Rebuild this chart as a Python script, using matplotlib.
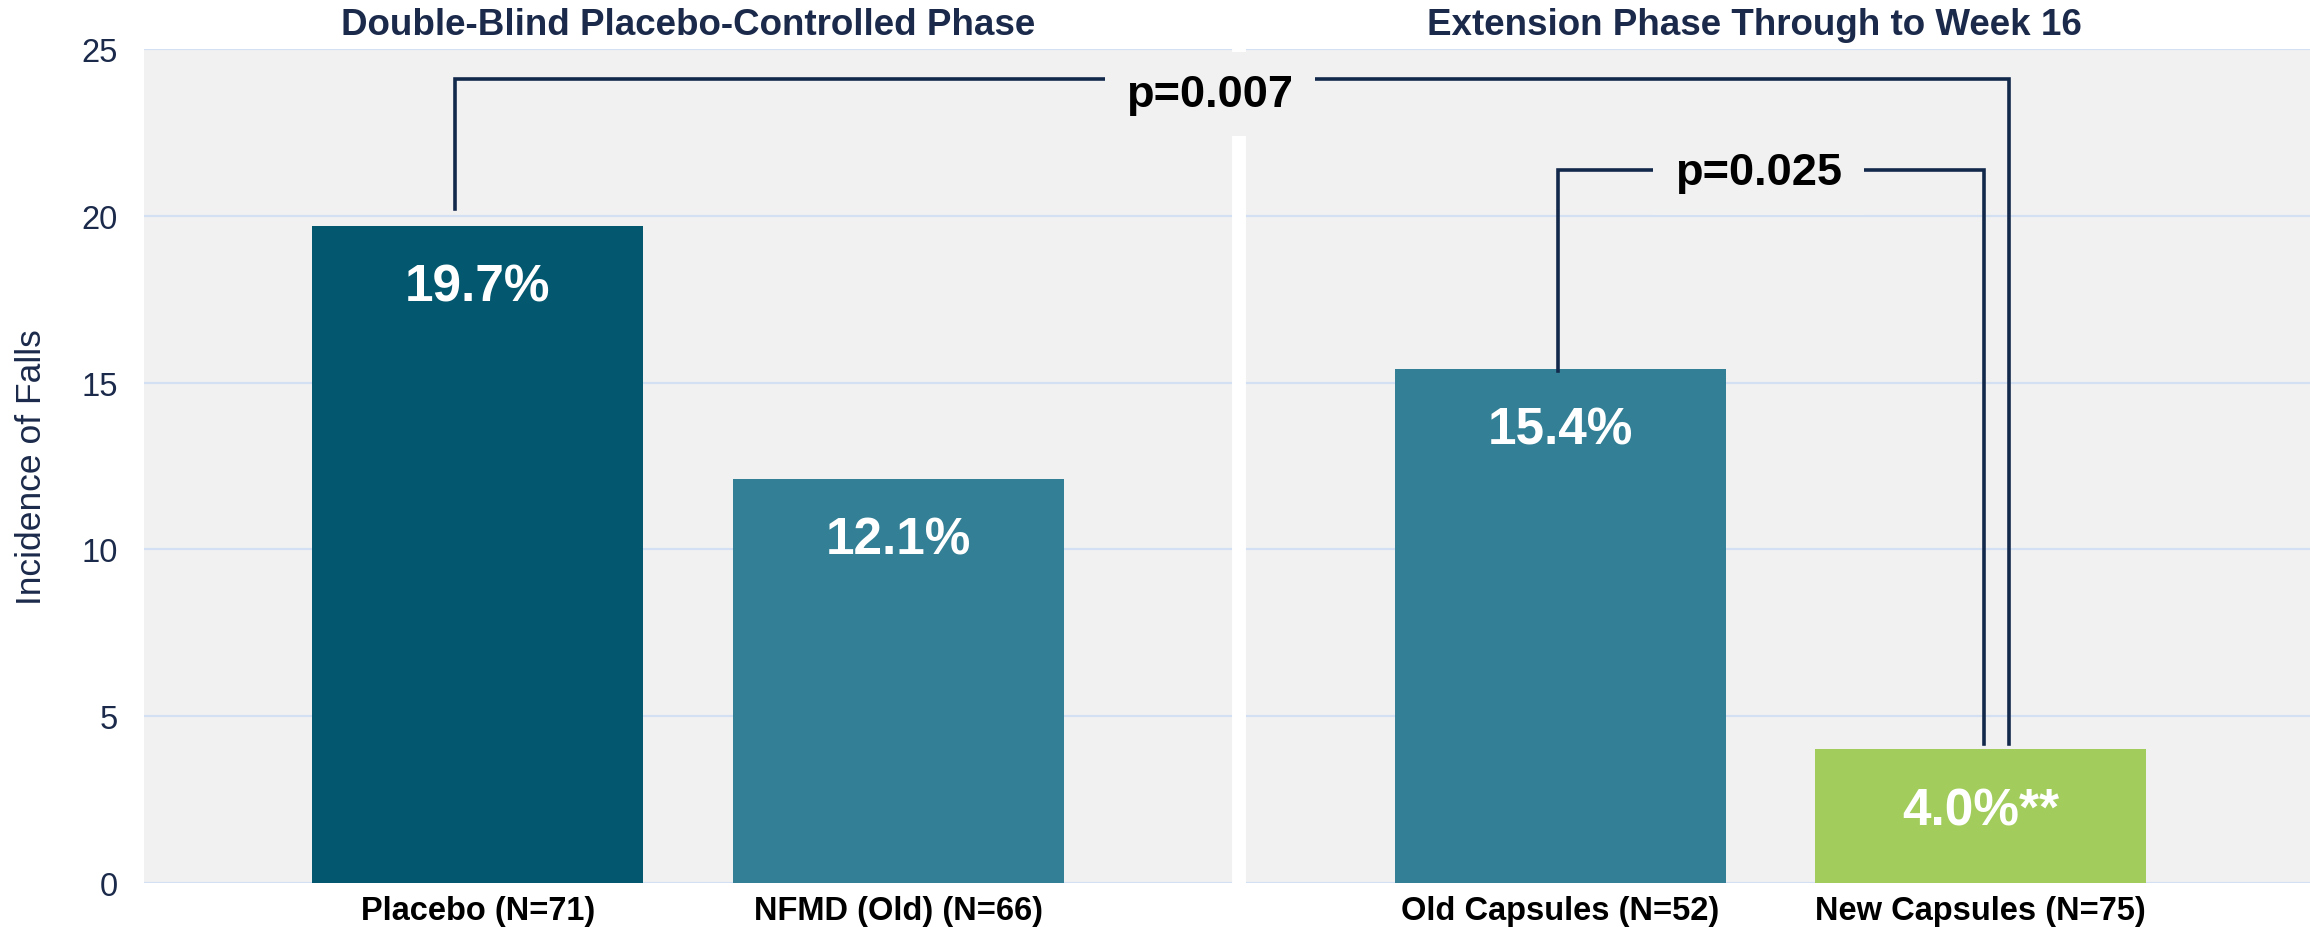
import matplotlib
matplotlib.use("Agg")
import matplotlib.pyplot as plt
import matplotlib.transforms as mtransforms

# data
categories = ["Placebo (N=71)", "NFMD (Old) (N=66)", "Old Capsules (N=52)", "New Capsules (N=75)"]
values = [19.7, 12.1, 15.4, 4.0]
value_labels = ["19.7%", "12.1%", "15.4%", "4.0%**"]
bar_colors = ["#03586f", "#337f95", "#337f95", "#a2cd5c"]
phase_titles = ["Double-Blind Placebo-Controlled Phase", "Extension Phase Through to Week 16"]
yticks = [0, 5, 10, 15, 20, 25]
# (left bar, right bar, p-value text)
comparisons = [(0, 3, "p=0.007"), (2, 3, "p=0.025")]

navy = "#1b2a4a"
line_col = "#13294b"
bg = "#f1f1f1"

plt.rcParams["font.family"] = ["Liberation Sans", "DejaVu Sans"]

fig = plt.figure(figsize=(23.1, 9.28), dpi=100)
ax = fig.add_axes([0.0625, 0.0476, 0.9375, 0.8984])
ax.set_facecolor(bg)

# two groups of two bars, bigger gap between the phases
x = [0, 1, 2.575, 3.575]
ax.bar(x, values, width=0.787, color=bar_colors, zorder=3)

for xi, v, lab in zip(x, values, value_labels):
    ax.annotate(lab, (xi, v), xytext=(0, -44), textcoords="offset points",
                ha="center", va="center", color="white", fontsize=37,
                fontweight="bold", zorder=4)

ax.set_xlim(-0.793, 4.358)
ax.set_ylim(0, 25)
ax.set_yticks(yticks)
ax.set_xticks(x)
ax.set_xticklabels(categories, fontsize=23.5, fontweight="bold", color="black")
ax.tick_params(axis="x", length=0, pad=9)
ax.tick_params(axis="y", length=0, pad=19, labelsize=23.5, labelcolor=navy)
ax.grid(axis="y", color="#d3dff2", linewidth=1.6, zorder=1)
for s in ax.spines.values():
    s.set_visible(False)

ax.set_ylabel("Incidence of Falls", fontsize=25.5, color=navy, labelpad=24)

# white divider between phases
ax.axvline(1.811, color="white", linewidth=10, zorder=2)

# phase titles
tr = mtransforms.blended_transform_factory(ax.transData, fig.transFigure)
ax.text(0.5, 0.9623, phase_titles[0], transform=tr, ha="center", va="baseline",
        fontsize=26.5, fontweight="bold", color=navy)
ax.text(3.037, 0.9623, phase_titles[1], transform=tr, ha="center", va="baseline",
        fontsize=26.5, fontweight="bold", color=navy)

# significance brackets
bracket_geom = [
    # x left, x right, y top, y left end, y right end, label x, label baseline
    (x[0] - 0.055, x[3] + 0.066, 24.10, values[0] + 0.5, values[3] + 0.15, 1.741, 23.30),
    (x[2] - 0.005, x[3] + 0.008, 21.38, values[2] - 0.05, values[3] + 0.15, 3.046, 20.95),
]
for (i, j, ptxt), (xl, xr, yt, yl, yr, lx, ly) in zip(comparisons, bracket_geom):
    ax.plot([xl, xl, xr, xr], [yl, yt, yt, yr], color=line_col,
            linewidth=2.6, solid_joinstyle="miter", zorder=5)
    ax.text(lx, ly, ptxt, ha="center", va="baseline", fontsize=32.5,
            fontweight="bold", color="black", zorder=6,
            bbox=dict(boxstyle="square,pad=0.48", facecolor=bg, edgecolor="none"))

fig.savefig("out.png", dpi=100)
